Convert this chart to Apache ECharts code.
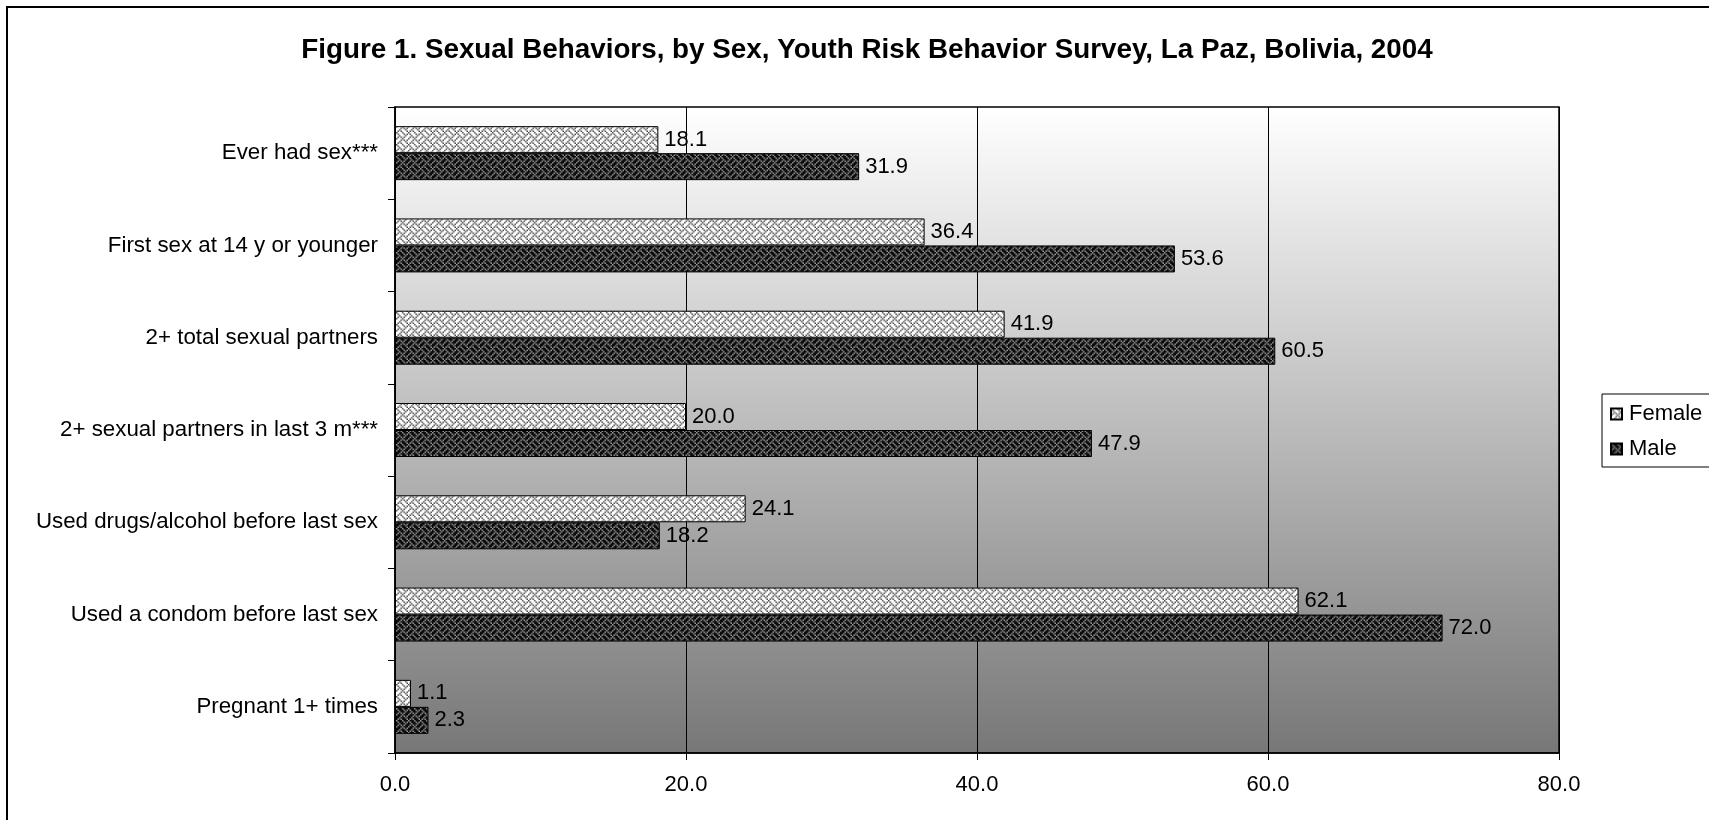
<!DOCTYPE html>
<html>
<head>
<meta charset="utf-8">
<script src="https://cdn.jsdelivr.net/npm/echarts@6/dist/echarts.min.js"></script>
<style>
html,body{margin:0;padding:0;background:#fff;}
#chart{width:1709px;height:820px;}
</style>
</head>
<body>
<div id="chart"></div>
<script>
const titleText = 'Figure 1. Sexual Behaviors, by Sex, Youth Risk Behavior Survey, La Paz, Bolivia, 2004';
const categories = [
  'Ever had sex***',
  'First sex at 14 y or younger',
  '2+ total sexual partners',
  '2+ sexual partners in last 3 m***',
  'Used drugs/alcohol before last sex',
  'Used a condom before last sex',
  'Pregnant 1+ times'
];
const femaleValues = [18.1, 36.4, 41.9, 20.0, 24.1, 62.1, 1.1];
const maleValues = [31.9, 53.6, 60.5, 47.9, 18.2, 72.0, 2.3];
const xTicks = [0, 20, 40, 60, 80];

const weave = [
  '10001000',
  '01000101',
  '00100010',
  '01010100',
  '10001000',
  '00010101',
  '00100010',
  '01010001'
];
function makePattern(bg, fg) {
  const s = document.createElement('canvas');
  s.width = 8; s.height = 8;
  const sc = s.getContext('2d');
  sc.fillStyle = bg; sc.fillRect(0, 0, 8, 8);
  sc.fillStyle = fg;
  for (let y = 0; y < 8; y++) for (let x = 0; x < 8; x++) {
    if (weave[y][x] === '1') sc.fillRect(x, y, 1, 1);
  }
  const c = document.createElement('canvas');
  c.width = 12; c.height = 12;
  const ctx = c.getContext('2d');
  ctx.imageSmoothingEnabled = true;
  ctx.drawImage(s, 0, 0, 12, 12);
  return { image: c, repeat: 'repeat' };
}
const femalePattern = makePattern('#ffffff', '#4a4a4a');
const malePattern = makePattern('#0a0a0a', '#9a9a9a');

const chart = echarts.init(document.getElementById('chart'));
const font = 'Liberation Sans, Arial, sans-serif';
chart.setOption({
  animation: false,
  backgroundColor: '#ffffff',
  textStyle: { fontFamily: font },
  title: {
    text: titleText,
    left: 862, textAlign: 'center', top: 31,
    textStyle: { fontFamily: font, fontSize: 27.8, fontWeight: 'bold', color: '#000' }
  },
  graphic: [{
    type: 'rect', silent: true, z: 100,
    shape: { x: 7, y: 7, width: 1800, height: 900 },
    style: { fill: 'none', stroke: '#000', lineWidth: 2 }
  }],
  legend: {
    orient: 'vertical',
    left: 1602, top: 394,
    padding: [9, 40, 7, 8],
    itemGap: 13,
    itemWidth: 11, itemHeight: 11,
    borderColor: '#000', borderWidth: 1,
    backgroundColor: '#fff',
    icon: 'rect',
    textStyle: { fontFamily: font, fontSize: 22, color: '#000', padding: [0, 0, 0, 2] },
    data: ['Female', 'Male']
  },
  grid: {
    left: 395, right: 150, top: 107, bottom: 67,
    show: true,
    borderColor: '#000', borderWidth: 1.5,
    backgroundColor: new echarts.graphic.LinearGradient(0, 0, 0, 1, [
      { offset: 0, color: '#ffffff' },
      { offset: 1, color: '#777777' }
    ])
  },
  xAxis: {
    type: 'value', min: 0, max: 80, interval: 20,
    axisLine: { show: true, lineStyle: { color: '#000', width: 1.5 } },
    axisTick: { show: true, length: 7, lineStyle: { color: '#000' } },
    splitLine: { show: true, lineStyle: { color: '#000', width: 1 } },
    axisLabel: {
      fontFamily: font, fontSize: 22, color: '#000', margin: 21,
      formatter: v => xTicks.includes(v) ? v.toFixed(1) : ''
    }
  },
  yAxis: {
    type: 'category', inverse: true, data: categories,
    axisLine: { show: true, lineStyle: { color: '#000', width: 1.5 } },
    axisTick: { show: true, length: 7, lineStyle: { color: '#000' } },
    axisLabel: { fontFamily: font, fontSize: 22.3, color: '#000', margin: 17 }
  },
  series: [
    {
      name: 'Female', type: 'bar', data: femaleValues,
      barWidth: 27, barGap: '0%',
      itemStyle: { color: femalePattern, borderColor: '#000', borderWidth: 1 },
      label: { show: true, position: 'right', distance: 6, fontFamily: font, fontSize: 22, color: '#000',
        formatter: p => p.value.toFixed(1) }
    },
    {
      name: 'Male', type: 'bar', data: maleValues,
      barWidth: 27, barGap: '0%',
      itemStyle: { color: malePattern, borderColor: '#000', borderWidth: 1 },
      label: { show: true, position: 'right', distance: 6, fontFamily: font, fontSize: 22, color: '#000',
        formatter: p => p.value.toFixed(1) }
    }
  ]
});
</script>
</body>
</html>
